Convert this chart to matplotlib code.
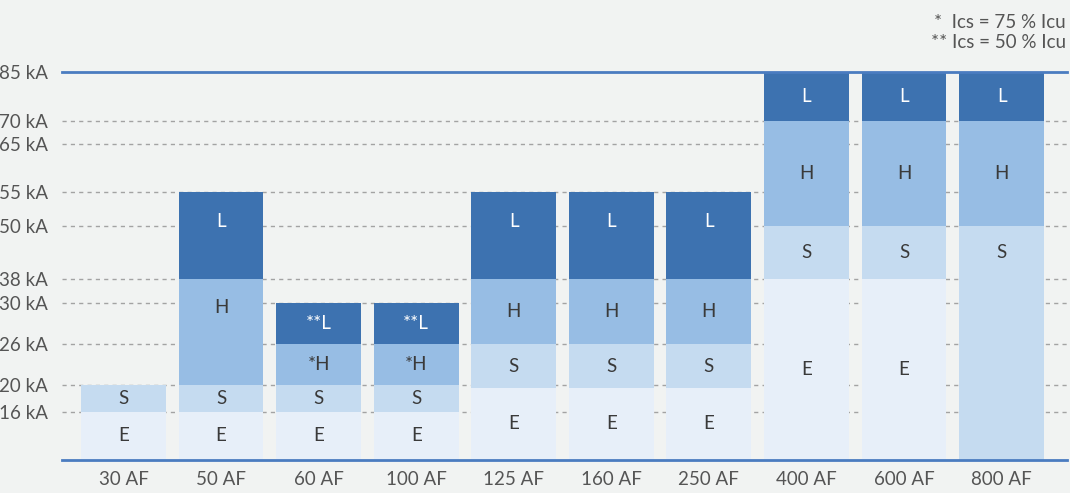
import numpy as np
import matplotlib
matplotlib.use("Agg")
import matplotlib.pyplot as plt

plt.rcParams['font.family'] = ['Lato', 'DejaVu Sans']

categories = ['30 AF', '50 AF', '60 AF', '100 AF', '125 AF', '160 AF', '250 AF', '400 AF', '600 AF', '800 AF']
e_top = [16, 16, 16, 16, 19.6, 19.6, 19.6, 38, 38, 0]
s_top = [20, 20, 20, 20, 26, 26, 26, 50, 50, 50]
h_top = [np.nan, 38, 26, 26, 38, 38, 38, 70, 70, 70]
l_top = [np.nan, 55, 30, 30, 55, 55, 55, 85, 85, 85]
h_names = ['H', 'H', '*H', '*H', 'H', 'H', 'H', 'H', 'H', 'H']
l_names = ['L', 'L', '**L', '**L', 'L', 'L', 'L', 'L', 'L', 'L']
ticks_ka = [16, 20, 26, 30, 38, 50, 55, 65, 70, 85]
notes = ['*  Ics = 75 % Icu', '** Ics = 50 % Icu']

# the axis is not linear: kA value -> height in px above the baseline
scale_ka = [0, 16, 20, 26, 30, 38, 50, 55, 65, 70, 85]
scale_px = [0, 47.8, 74.2, 115.2, 156.5, 180.8, 233.8, 267.2, 315.2, 338.2, 387.5]

def fwd(v):
    return np.interp(v, scale_ka, scale_px)

def inv(p):
    return np.interp(p, scale_px, scale_ka)

c_e, c_s, c_h, c_l = '#e7eff9', '#c5dbf0', '#97bde4', '#3d72b0'
bg = '#f1f3f2'
txt = '#3a3a3a'
fs = 13.5

fig = plt.figure(figsize=(10.7, 4.93), dpi=100, facecolor=bg)
ax = fig.add_axes([62 / 1070, 33.5 / 493, 1005 / 1070, 387.5 / 493])
ax.set_facecolor(bg)
ax.set_yscale('function', functions=(fwd, inv))
ax.set_ylim(0, 85)
ax.set_xlim(-0.63, 9.67)

x = np.arange(len(categories))
w = 0.87

def mid(a, b):
    return inv((fwd(a) + fwd(b)) / 2)

for i in x:
    segs = [(0, e_top[i], c_e, 'E', txt),
            (e_top[i], s_top[i], c_s, 'S', txt),
            (s_top[i], h_top[i], c_h, h_names[i], txt),
            (h_top[i], l_top[i], c_l, l_names[i], 'white')]
    for lo, hi, col, name, tc in segs:
        if np.isnan(hi) or hi <= lo:
            continue
        ax.bar(i, hi - lo, bottom=lo, width=w, color=col, zorder=2, linewidth=0)
        ym = mid(lo, hi)
        if name == 'S' and lo == 0:
            ym = mid(38, 50)
        if name == 'L' and lo == 38:
            ym = 50.6
        if name == 'H' and lo == 20:
            ym = 29.6
        ax.text(i, ym, name, ha='center', va='center', color=tc, fontsize=fs, zorder=3)

for t in ticks_ka[:-1]:
    ax.axhline(t, color='#a3a3a3', lw=1, ls=(0, (3, 3)), zorder=1)
ax.axhline(85, color='#4a7cc0', lw=2, zorder=4, clip_on=False)
ax.axhline(0, color='#4a7cc0', lw=2, zorder=4, clip_on=False)

ax.set_yticks(ticks_ka)
ax.set_yticklabels([f'{t} kA' for t in ticks_ka])
ax.set_xticks(x)
ax.set_xticklabels(categories)
ax.tick_params(length=0, labelsize=fs, labelcolor='#555555')
ax.tick_params(axis='y', pad=10)
ax.tick_params(axis='x', pad=8)
ax.minorticks_off()
for s in ax.spines.values():
    s.set_visible(False)

fig.text(1066 / 1070, 1 - 22 / 493, notes[0], ha='right', va='center', fontsize=fs, color='#555555')
fig.text(1066 / 1070, 1 - 43 / 493, notes[1], ha='right', va='center', fontsize=fs, color='#555555')

fig.savefig('out.png', dpi=100, facecolor=bg)
